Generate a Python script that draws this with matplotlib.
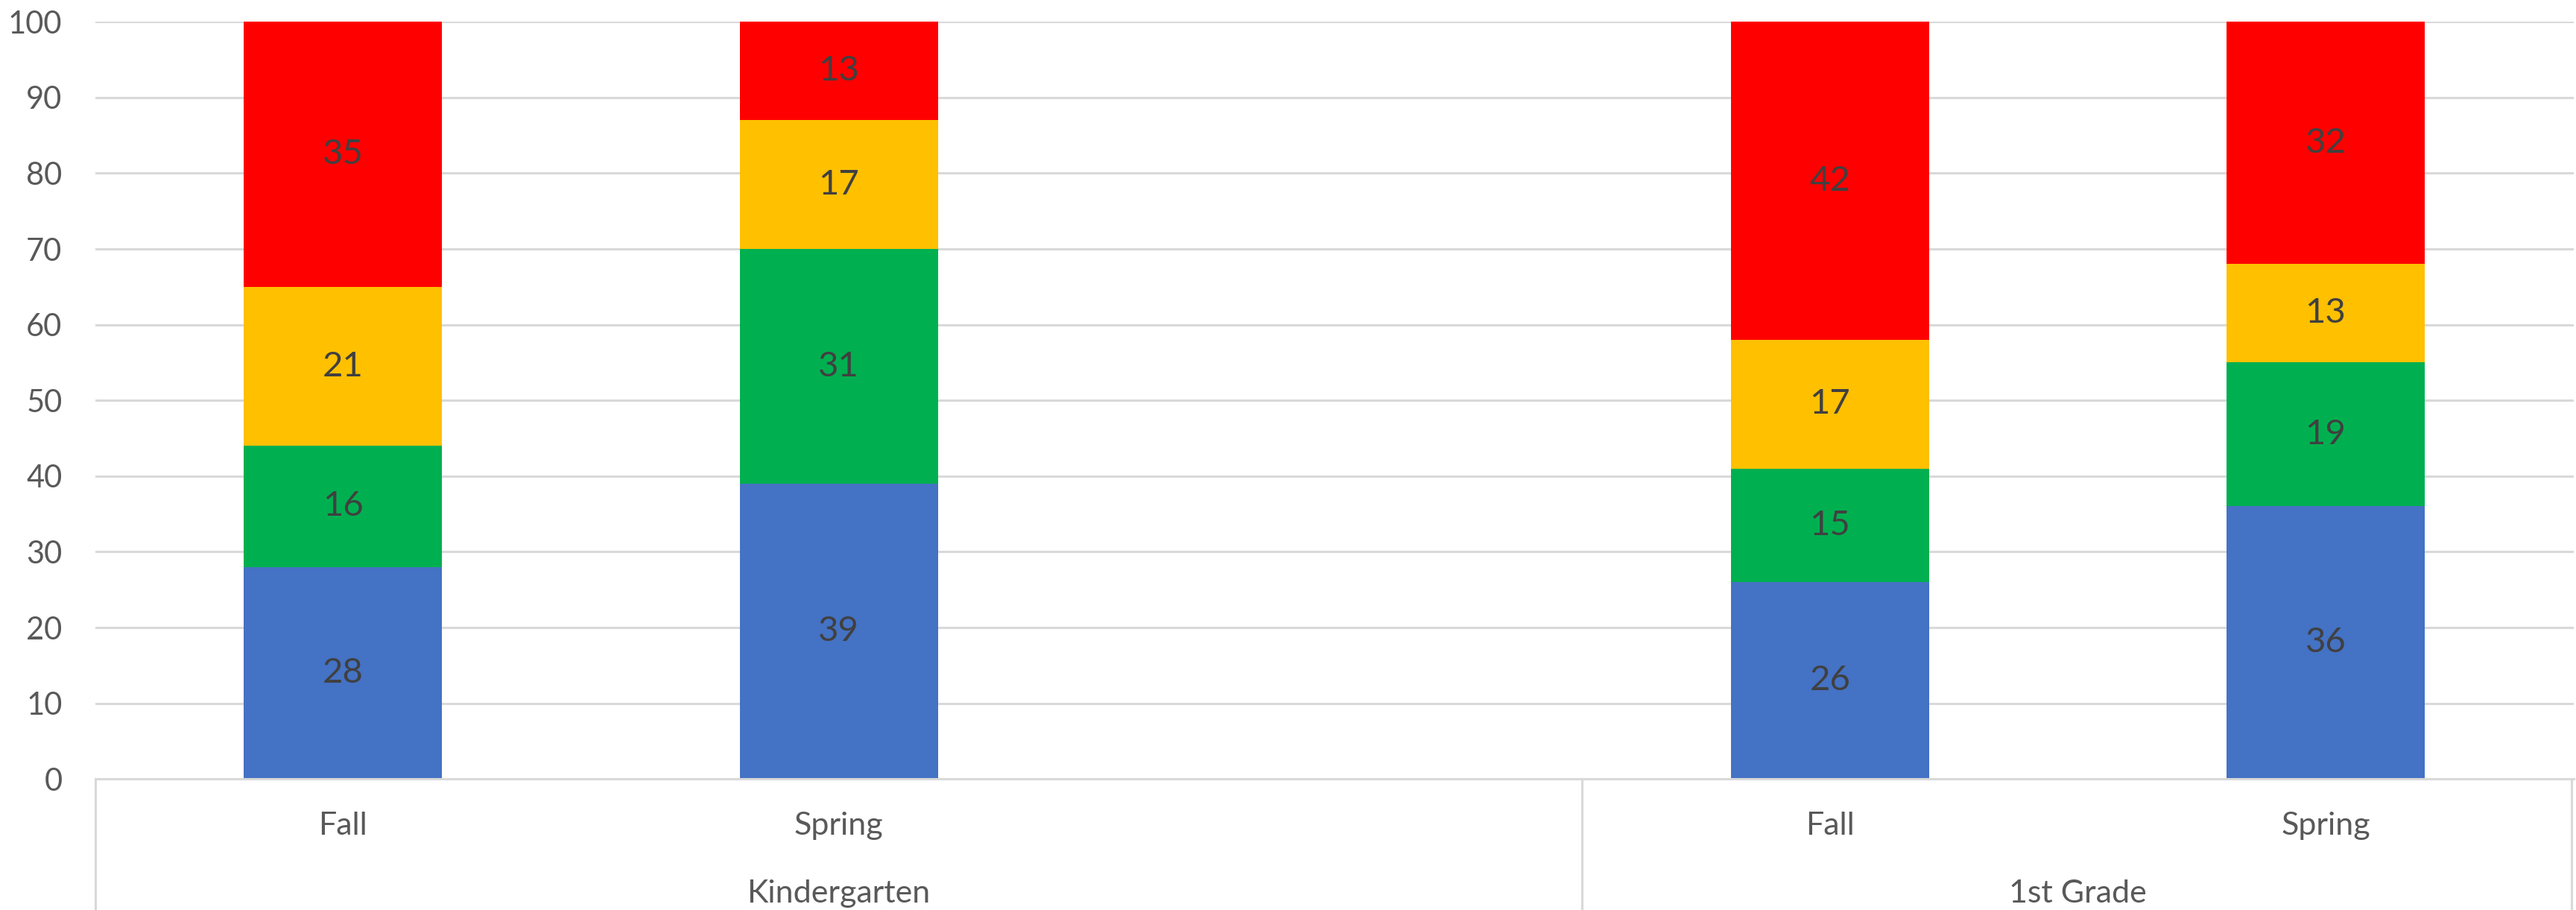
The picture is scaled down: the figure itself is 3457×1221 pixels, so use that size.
import numpy as np
import matplotlib
matplotlib.use('Agg')
from matplotlib import pyplot as plt

# data (the third slot is an empty category in the Kindergarten group)
terms = ['Fall', 'Spring', '', 'Fall', 'Spring']
groups = ['Kindergarten', '1st Grade']
group_spans = [(0, 2), (3, 4)]
blue = [28, 39, np.nan, 26, 36]
green = [16, 31, np.nan, 15, 19]
yellow = [21, 17, np.nan, 17, 13]
red = [35, 13, np.nan, 42, 32]

series = [blue, green, yellow, red]
colors = ['#4472C4', '#00B050', '#FFC000', '#FF0000']

plt.rcParams['font.family'] = ['Lato', 'DejaVu Sans']

fig = plt.figure(figsize=(34.57, 12.21), dpi=100)
ax = fig.add_axes([0.037, 0.144, 0.962, 0.832])

x = np.arange(len(terms))
bottom = np.zeros(len(terms))
for vals, c in zip(series, colors):
    v = np.array(vals, dtype=float)
    ax.bar(x, np.nan_to_num(v), bottom=bottom, width=0.4, color=c, zorder=2)
    for xi, b, h in zip(x, bottom, v):
        if not np.isnan(h):
            ax.text(xi, b + h / 2, f'{int(h)}', ha='center', va='center',
                    fontsize=34, color='#404040', zorder=3)
    bottom = bottom + np.nan_to_num(v)

ax.set_xlim(-0.5, len(terms) - 0.5)
ax.set_ylim(0, 100)
ax.set_yticks(range(0, 101, 10))
ax.tick_params(axis='y', length=0, pad=32, labelsize=30, labelcolor='#595959')
ax.set_xticks([])
ax.grid(axis='y', color='#D9D9D9', linewidth=2.2, zorder=0)
for s in ['left', 'right', 'top']:
    ax.spines[s].set_visible(False)
ax.spines['bottom'].set_color('#D9D9D9')
ax.spines['bottom'].set_linewidth(2.2)

# two-level category axis
trans = ax.get_xaxis_transform()
for xi, t in zip(x, terms):
    ax.text(xi, -0.062, t, transform=trans, ha='center', va='center',
            fontsize=31, color='#595959')
for g, (a, b) in zip(groups, group_spans):
    left = a - 0.5
    right = b + 0.5
    ax.text((left + right) / 2, -0.151, g, transform=trans, ha='center',
            va='center', fontsize=31, color='#595959')
for xd in [-0.5, 2.5, 4.5 - 0.004]:
    ax.plot([xd, xd], [0, -0.2], transform=trans, color='#D9D9D9',
            linewidth=2.2, clip_on=False)

fig.savefig('out.png', dpi=100, facecolor='white')
